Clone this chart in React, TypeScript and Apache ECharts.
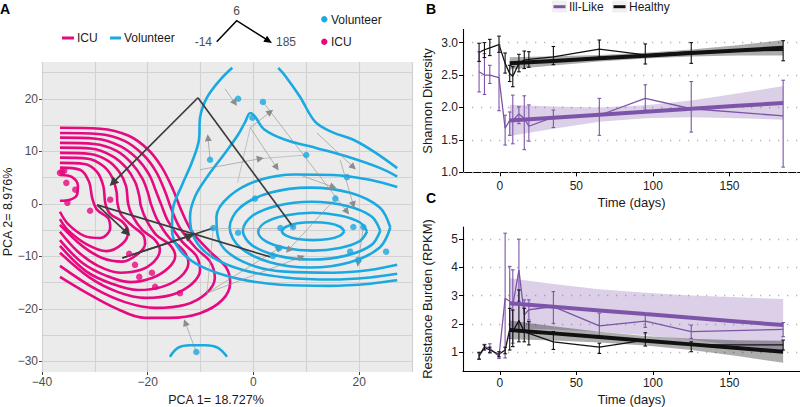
import React, { useEffect, useRef } from "react";
import * as echarts from "echarts";

const FONT = "'Liberation Sans', Arial, Helvetica, sans-serif";
const PINK = "#E6097F";
const BLUE = "#1BA9E1";
const PURPLE = "#7D55A8";
const DARK = "#111111";
const PANEL_BG = "#EBEBEB";
const PANEL_GRID = "#D2D2D2";

// ---------------- Panel A : PCA ----------------
const pcaXTicks = [-40, -20, 0, 20];
const pcaYTicks = [-30, -20, -10, 0, 10, 20];
const pcaXGrid = [-40, -30, -20, -10, 0, 10, 20, 30];
const pcaYGrid = [-30, -25, -20, -15, -10, -5, 0, 5, 10, 15, 20, 25];

const icuPoints = [
  [-36.6, 5.9], [-36.2, 6.1], [-35.8, 6.3], [-35.4, 4.0], [-33.7, 2.7], [-35.2, 0.2],
  [-30.9, -1.3], [-27.1, 0.8], [-23.5, -9.5], [-22.4, -11.6], [-21.6, -13.9],
  [-19.2, -13.1], [-18.6, -15.8], [-13.9, -17.0],
];
const volunteerPoints = [
  [-8.2, 8.4], [-2.9, 20.0], [1.8, 19.4], [-0.2, 16.4], [10.0, 9.3], [17.7, 5.1],
  [0.3, 1.0], [15.5, 1.0], [-7.6, -4.6], [-2.9, -5.5], [5.1, -4.6], [7.5, -4.4],
  [18.9, -4.4], [20.8, -4.4], [4.9, -8.4], [3.7, -9.9], [18.3, -9.1], [19.8, -10.7],
  [25.1, -9.1], [-10.8, -28.2],
];

const icuContours = [
  [[-36.6,14.5],[-29,14.3],[-23.7,13],[-19.9,10.3],[-17.3,6.9],[-15.2,2.7],[-13.7,-1.1],[-11.6,-5.3],[-8.2,-9.1],[-5.1,-12.2],[-4.4,-15.0],[-5.9,-18.3],[-10.1,-20.8],[-15.8,-21.7],[-20.5,-21.7],[-26.2,-19.8],[-31.8,-16.8],[-36.6,-13.9]],
  [[-36.6,13.5],[-29.4,13.3],[-24.4,12],[-20.8,9.3],[-18.4,6.1],[-16.7,2.3],[-15.6,-0.8],[-13.9,-4.6],[-10.9,-8.4],[-8.2,-11],[-7.3,-14.1],[-9,-17.1],[-12.9,-19.2],[-18.6,-19.8],[-24.3,-18.7],[-29.9,-16.2],[-36.6,-11.8]],
  [[-36.6,12.6],[-29.8,12.4],[-25.2,11],[-22,8.6],[-19.7,5.5],[-18.4,2.3],[-17.5,0],[-16.1,-3.4],[-13.5,-7.2],[-10.8,-9.9],[-10.1,-12.6],[-11.6,-15.2],[-15.4,-17.3],[-20.5,-17.9],[-25.6,-16.8],[-30.9,-14.1],[-36.6,-9.3]],
  [[-36.6,11.6],[-30.1,11.4],[-25.9,10.1],[-23.1,7.8],[-21,4.8],[-19.9,1.9],[-19.4,0],[-18.2,-3],[-15.9,-6.5],[-13.3,-8.8],[-12.3,-11.2],[-13.8,-13.9],[-17.3,-15.8],[-21.8,-16.4],[-26.8,-15.2],[-31.7,-12.8],[-36.6,-8]],
  [[-36.6,10.7],[-30.5,10.5],[-26.7,9.1],[-24.1,6.9],[-22.4,4.2],[-21.6,1.5],[-21.3,-0.4],[-20.3,-3],[-18.4,-5.9],[-15.8,-7.8],[-14.8,-9.9],[-16.1,-12.2],[-19.2,-14.1],[-23.3,-14.9],[-27.8,-13.7],[-32.4,-11.2],[-36.6,-6.9]],
  [[-36.6,9.7],[-30.9,9.5],[-27.5,8.2],[-25.4,6.1],[-24.1,3.4],[-23.7,0],[-22.9,-2.3],[-21,-5],[-18.6,-6.9],[-17.7,-8.8],[-18.8,-11],[-21.4,-12.6],[-25.2,-13.1],[-29.4,-11.8],[-33.2,-9.1],[-36.6,-5.3]],
  [[-36.6,8.8],[-31.3,8.6],[-28.4,7.2],[-26.7,5],[-25.9,2.3],[-25.7,0],[-25,-2.1],[-22.9,-4.2],[-20.9,-5.9],[-20.5,-7.6],[-21.8,-9.5],[-24.8,-11],[-28.6,-10.3],[-32.4,-8],[-36.6,-4]],
  [[-36.6,7.8],[-32,7.6],[-29.6,6.1],[-28.4,3.4],[-28,0],[-27.1,-1.9],[-24.8,-3.4],[-23.7,-5.3],[-24.8,-7.6],[-27.8,-9],[-31.7,-7.6],[-35.1,-5],[-36.6,-2.9]],
  [[-36.6,6.9],[-32.8,6.5],[-31.1,4.2],[-30.5,1.1],[-29.6,-1.1],[-27.5,-2.7],[-27.1,-4.6],[-29,-6.5],[-32,-6.1],[-35.1,-3.8],[-36.6,-1.5]],
  [[-36.6,5.5],[-34.3,5.1],[-33.2,3.4],[-33.4,1.7],[-34.7,0.8],[-36.6,0.6]],
];

const volunteerContours = [
  [[4.7,25.9],[6.0,24.4],[8.8,20.4],[11.7,15.6],[15.0,13.6],[18.9,12.2],[23.0,9.8],[27.2,6.8]],
  [[-4.0,25.9],[-6.3,23.6],[-8.8,20.2],[-10.1,16.4],[-10.3,12.2],[-11.6,8.0],[-13.5,3.6],[-15.2,-0.8],[-15.4,-5.0],[-13.9,-8.8],[-10.1,-11.8],[-3.5,-14.1],[5.1,-15.4],[14.5,-15.6],[22.1,-15.2],[27.2,-14.5]],
  [[27.2,5.2],[24.0,6.8],[17.7,9.0],[12.0,10.6],[6.0,12.2],[2.0,14.2],[0.3,16.6],[-0.6,17.3],[-1.6,15.5],[-3.0,13.0],[-5.5,9.5],[-8.5,5.5],[-11.0,1.5],[-12.0,-2.5],[-11.2,-6.5],[-8.0,-10.0],[-2.0,-12.6],[6.0,-14.0],[15.0,-14.4],[22.0,-14.0],[27.2,-13.3]],
  [[27.2,3.2],[22.0,4.6],[15.0,5.5],[8.0,5.6],[1.0,4.5],[-4.5,1.5],[-7.0,-2.5],[-6.5,-7.0],[-2.0,-11.0],[6.0,-12.9],[15.0,-13.1],[22.0,-12.6],[27.2,-11.6]],
  [[25.9,-4.5],[23.9,-0.7],[18.3,2.1],[10.7,3.1],[3.1,2.1],[-2.5,-0.7],[-4.5,-4.5],[-2.5,-8.3],[3.1,-11.1],[10.7,-12.1],[18.3,-11.1],[23.9,-8.3],[25.9,-4.5]],
  [[24.0,-5.1],[22.3,-2.35],[17.5,-0.35],[11.0,0.4],[4.5,-0.35],[-0.3,-2.35],[-2.0,-5.1],[-0.3,-7.85],[4.5,-9.85],[11.0,-10.6],[17.5,-9.85],[22.3,-7.85],[24.0,-5.1]],
  [[21.5,-5.3],[20.1,-3.5],[16.35,-2.2],[11.2,-1.7],[6.05,-2.2],[2.3,-3.5],[0.9,-5.3],[2.3,-7.1],[6.05,-8.4],[11.2,-8.9],[16.35,-8.4],[20.1,-7.1],[21.5,-5.3]],
  [[17.2,-5.2],[16.4,-4.35],[14.25,-3.7],[11.3,-3.5],[8.35,-3.7],[6.2,-4.35],[5.4,-5.2],[6.2,-6.05],[8.35,-6.7],[11.3,-6.9],[14.25,-6.7],[16.4,-6.05],[17.2,-5.2]],
  [[-15.8,-29.1],[-14.3,-27.4],[-12.0,-26.9],[-9.1,-26.9],[-6.7,-27.4],[-5.0,-29.1]],
];

// mean trajectories: day -14 -> day 6 -> day 185
const darkPaths = [
  [[7.5, -4.4], [-10.5, 20.2], [-26.6, 4.0]],
  [[3.2, -10.1], [-29.6, -0.2], [-23.9, -5.5]],
  [[-7.6, -4.6], [-24.8, -10.3], [-12.0, -6.1]],
];
const greyArrows = [
  [[-5.4, 21.9], [-3.5, 19.2]],
  [[-0.6, 14.5], [3.2, 17.5]],
  [[-0.6, 14.5], [4.4, 6.9]],
  [[-8.2, 8.4], [-8.6, 12.6]],
  [[-10.1, 6.5], [1.3, 8.6]],
  [[12.0, 13.5], [18.9, 7.0]],
  [[8.8, 5.5], [15.1, 3.2]],
  [[16.4, 8.4], [18.9, -0.2]],
  [[15.5, 1.0], [6.6, -8.8]],
  [[-8.8, -17.0], [4.9, -8.4]],
  [[-8.8, -17.0], [9.1, -10.1]],
  [[20.8, -4.4], [19.8, -11.3]],
  [[-10.8, -28.2], [-12.9, -22.6]],
  [[1.8, 19.4], [17.7, -1.5]],
];
const greyLinks = [
  [[-0.6, 14.5], [-3.0, 4.0]],
  [[-7.6, -4.6], [5.1, -4.6]],
  [[-8.8, -17.0], [-7.6, -4.6]],
  [[1.3, 8.6], [10.0, 9.3]],
];

// ---------------- Panels B / C : time courses ----------------
const timeMin = -24;
const timeMax = 196;
const timeTicks = [0, 50, 100, 150];
const shannonTicks = [1, 1.5, 2, 2.5, 3];
const resistTicks = [1, 2, 3, 4, 5];
const days = [-13.5, -10, -6.5, -0.5, 3.5, 6.5, 8.5, 12.5, 16, 19, 35, 65, 95, 125, 185];

const shannonHealthy = [2.85, 2.89, 2.92, 2.97, 2.68, 2.52, 2.48, 2.68, 2.73, 2.74, 2.78, 2.90, 2.81, 2.86, 2.88];
const shannonHealthyLo = [2.71, 2.77, 2.80, 2.85, 2.53, 2.40, 2.32, 2.55, 2.60, 2.62, 2.66, 2.78, 2.67, 2.68, 2.72];
const shannonHealthyHi = [2.99, 3.00, 3.05, 3.10, 2.84, 2.65, 2.63, 2.82, 2.87, 2.86, 2.94, 3.04, 2.98, 3.00, 3.03];
const shannonIll = [2.55, 2.50, 2.50, 2.46, 1.68, 1.80, 1.80, 1.90, 1.83, 1.71, 1.85, 1.88, 2.14, 1.98, 1.87];
const shannonIllLo = [2.24, 2.20, 2.37, 1.95, 1.42, 1.57, 1.44, 1.75, 1.35, 1.48, 1.69, 1.57, 1.96, 1.62, 1.08];
const shannonIllHi = [2.86, 2.83, 2.65, 2.96, 1.88, 1.93, 2.19, 2.01, 2.18, 2.04, 1.96, 2.14, 2.35, 2.40, 2.42];

const resistHealthy = [0.88, 1.17, 1.08, 0.93, 1.08, 1.81, 1.73, 2.12, 1.73, 1.67, 1.37, 1.18, 1.43, 1.26, 1.26];
const resistHealthyLo = [0.76, 1.08, 0.98, 0.84, 0.95, 1.08, 1.20, 1.37, 1.37, 1.26, 1.10, 0.96, 1.22, 1.02, 1.08];
const resistHealthyHi = [1.00, 1.26, 1.18, 1.02, 1.18, 2.55, 2.49, 3.20, 2.55, 2.08, 1.73, 1.32, 1.69, 1.37, 1.43];
const resistIll = [0.85, 1.20, 1.14, 0.85, 2.90, 2.80, 2.65, 3.90, 2.32, 2.50, 2.61, 1.93, 2.10, 1.73, 1.81];
const resistIllLo = [0.75, 1.12, 1.00, 0.78, 0.80, 1.49, 1.32, 2.80, 1.79, 2.14, 2.02, 1.49, 1.88, 1.49, 1.55];
const resistIllHi = [0.97, 1.28, 1.30, 0.95, 5.20, 4.03, 3.91, 4.99, 2.85, 2.85, 3.14, 2.38, 2.32, 1.96, 2.05];

const trendDays = [6.5, 35, 65, 95, 125, 155, 185];
const shannonHealthyFit = [2.68, 2.718, 2.759, 2.799, 2.839, 2.88, 2.92];
const shannonHealthyFitLo = [2.585, 2.648, 2.709, 2.754, 2.784, 2.80, 2.80];
const shannonHealthyFitHi = [2.775, 2.788, 2.809, 2.844, 2.894, 2.96, 3.04];
const shannonIllFit = [1.80, 1.843, 1.889, 1.934, 1.979, 2.025, 2.07];
const shannonIllFitLo = [1.56, 1.673, 1.779, 1.834, 1.849, 1.835, 1.81];
const shannonIllFitHi = [2.04, 2.013, 1.999, 2.034, 2.109, 2.215, 2.33];
const resistIllFit = [2.73, 2.607, 2.478, 2.348, 2.219, 2.089, 1.96];
const resistIllFitLo = [1.85, 1.807, 1.728, 1.598, 1.439, 1.239, 1.04];
const resistIllFitHi = [3.61, 3.407, 3.228, 3.098, 2.999, 2.939, 2.88];
const resistHealthyFit = [1.79, 1.667, 1.538, 1.408, 1.279, 1.149, 1.02];
const resistHealthyFitLo = [1.46, 1.417, 1.348, 1.238, 1.079, 0.869, 0.63];
const resistHealthyFitHi = [2.12, 1.917, 1.728, 1.578, 1.479, 1.429, 1.41];

// ---------------- helpers ----------------
const minusFmt = (v: number) => String(v).replace("-", "\u2212");

const ribbon = (gi: number, xs: number[], lo: number[], hi: number[], fill: string) => ({
  type: "custom",
  xAxisIndex: gi,
  yAxisIndex: gi,
  silent: true,
  z: 2,
  data: [[50, 2]],
  renderItem: (_p: any, api: any) => {
    const top = xs.map((d, i) => api.coord([d, hi[i]]));
    const bot = xs.map((d, i) => api.coord([d, lo[i]])).reverse();
    return { type: "polygon", shape: { points: top.concat(bot) }, style: { fill } };
  },
});

const errorBars = (gi: number, lo: number[], hi: number[], color: string) => ({
  type: "custom",
  xAxisIndex: gi,
  yAxisIndex: gi,
  silent: true,
  z: 5,
  data: days.map((d, i) => [d, lo[i], hi[i]]),
  encode: { x: 0, y: [1, 2] },
  renderItem: (_p: any, api: any) => {
    const x = api.value(0);
    const a = api.coord([x, api.value(1)]);
    const b = api.coord([x, api.value(2)]);
    const w = 1.8;
    const st = { stroke: color, lineWidth: 1.1 };
    return {
      type: "group",
      children: [
        { type: "line", shape: { x1: a[0], y1: a[1], x2: b[0], y2: b[1] }, style: st },
        { type: "line", shape: { x1: a[0] - w, y1: a[1], x2: a[0] + w, y2: a[1] }, style: st },
        { type: "line", shape: { x1: b[0] - w, y1: b[1], x2: b[0] + w, y2: b[1] }, style: st },
      ],
    };
  },
});

const thinLine = (gi: number, vals: number[], color: string) => ({
  type: "line",
  xAxisIndex: gi,
  yAxisIndex: gi,
  silent: true,
  z: 4,
  symbol: "none",
  data: days.map((d, i) => [d, vals[i]]),
  lineStyle: { color, width: 1.3 },
});

const thickLine = (gi: number, vals: number[], color: string) => ({
  type: "line",
  xAxisIndex: gi,
  yAxisIndex: gi,
  silent: true,
  z: 6,
  symbol: "none",
  data: trendDays.map((d, i) => [d, vals[i]]),
  lineStyle: { color, width: 4 },
});

const markLineOf = (items: any[], color: string, type: any, width: number) => ({
  silent: true,
  z: 1,
  symbol: ["none", "none"],
  label: { show: false },
  emphasis: { disabled: true },
  lineStyle: { color, type, width, cap: "butt" },
  data: items,
});

const rightXAxis = (gi: number, margin: number) => ({
  gridIndex: gi,
  type: "value",
  min: timeMin,
  max: timeMax,
  splitLine: { show: false },
  axisLine: { show: true, onZero: false, lineStyle: { color: "#000", width: 1.1 } },
  axisTick: { show: true, length: 4, lineStyle: { color: "#000" }, customValues: timeTicks },
  axisLabel: { customValues: timeTicks, color: "#222", fontSize: 12, fontFamily: FONT, margin },
});

const rightYAxis = (gi: number, min: number, max: number, ticks: number[], digits: number) => ({
  gridIndex: gi,
  type: "value",
  position: "left",
  min,
  max,
  splitLine: { show: false },
  axisLine: { show: false, onZero: false },
  axisTick: { show: true, length: 4, lineStyle: { color: "#000" }, customValues: ticks },
  axisLabel: {
    customValues: ticks,
    color: "#222",
    fontSize: 12,
    fontFamily: FONT,
    margin: 5,
    formatter: (v: number) => v.toFixed(digits),
  },
});

const txt = (text: string, x: number, y: number, opts: any = {}) => ({
  type: "text",
  x,
  y,
  rotation: opts.rotation || 0,
  z: 100,
  style: {
    text,
    font: `${opts.bold ? "bold " : ""}${opts.size || 12}px ${FONT}`,
    fill: opts.color || "#1a1a1a",
    align: opts.align || "left",
    verticalAlign: "middle",
  },
});

function buildOption() {
  const series: any[] = [];

  // ----- Panel A -----
  series.push({
    type: "line",
    xAxisIndex: 0,
    yAxisIndex: 0,
    silent: true,
    symbol: "none",
    data: [[-40, -32]],
    lineStyle: { width: 0 },
    markLine: markLineOf(
      pcaXGrid.map((v) => ({ xAxis: v })).concat(pcaYGrid.map((v) => ({ yAxis: v })) as any),
      PANEL_GRID, "solid", 1.2
    ),
  });
  icuContours.forEach((c) =>
    series.push({
      type: "line", xAxisIndex: 0, yAxisIndex: 0, silent: true, symbol: "none", smooth: 0.35, z: 3,
      data: c, lineStyle: { color: PINK, width: 2.6 },
    })
  );
  volunteerContours.forEach((c) =>
    series.push({
      type: "line", xAxisIndex: 0, yAxisIndex: 0, silent: true, symbol: "none", smooth: 0.35, z: 3,
      data: c, lineStyle: { color: BLUE, width: 2.6 },
    })
  );
  series.push({
    type: "lines", coordinateSystem: "cartesian2d", xAxisIndex: 0, yAxisIndex: 0, silent: true, z: 4,
    symbol: ["none", "none"],
    lineStyle: { color: "#A6A6A6", width: 0.6, opacity: 1 },
    data: greyLinks.map((c) => ({ coords: c })),
  });
  series.push({
    type: "lines", coordinateSystem: "cartesian2d", xAxisIndex: 0, yAxisIndex: 0, silent: true, z: 4,
    symbol: ["none", "triangle"], symbolSize: 7,
    lineStyle: { color: "#8C8C8C", width: 0.6, opacity: 1 },
    data: greyArrows.map((c) => ({ coords: c })),
  });
  series.push({
    type: "lines", coordinateSystem: "cartesian2d", xAxisIndex: 0, yAxisIndex: 0, silent: true, z: 5,
    symbol: ["none", "none"],
    lineStyle: { color: "#3C3C3C", width: 1.7, opacity: 1 },
    data: darkPaths.map((p) => ({ coords: [p[0], p[1]] })),
  });
  series.push({
    type: "lines", coordinateSystem: "cartesian2d", xAxisIndex: 0, yAxisIndex: 0, silent: true, z: 5,
    symbol: ["none", "triangle"], symbolSize: 9,
    lineStyle: { color: "#3C3C3C", width: 1.7, opacity: 1 },
    data: darkPaths.map((p) => ({ coords: [p[1], p[2]] })),
  });
  series.push({
    type: "scatter", xAxisIndex: 0, yAxisIndex: 0, silent: true, z: 6,
    symbolSize: 6.5, data: volunteerPoints, itemStyle: { color: BLUE },
  });
  series.push({
    type: "scatter", xAxisIndex: 0, yAxisIndex: 0, silent: true, z: 6,
    symbolSize: 6.5, data: icuPoints, itemStyle: { color: PINK },
  });

  // ----- Panels B and C: dotted grid + left axis line -----
  const panelFrame = (gi: number, ticks: number[]) => [
    {
      type: "line", xAxisIndex: gi, yAxisIndex: gi, silent: true, symbol: "none",
      data: [[50, ticks[1]]], lineStyle: { width: 0 },
      markLine: markLineOf(ticks.map((v) => ({ yAxis: v })), "#B5B5B5", [1.3, 7.7], 1.3),
    },
    {
      type: "line", xAxisIndex: gi, yAxisIndex: gi, silent: true, symbol: "none",
      data: [[50, ticks[1]]], lineStyle: { width: 0 },
      markLine: { ...markLineOf([{ xAxis: timeMin }], "#000", "solid", 1.1), z: 7 },
    },
  ];

  // ----- Panel B -----
  series.push(...panelFrame(1, shannonTicks));
  series.push(ribbon(1, trendDays, shannonHealthyFitLo, shannonHealthyFitHi, "rgba(0,0,0,0.32)"));
  series.push(ribbon(1, trendDays, shannonIllFitLo, shannonIllFitHi, "rgba(125,85,168,0.28)"));
  series.push(thinLine(1, shannonIll, PURPLE));
  series.push(thinLine(1, shannonHealthy, DARK));
  series.push(errorBars(1, shannonIllLo, shannonIllHi, PURPLE));
  series.push(errorBars(1, shannonHealthyLo, shannonHealthyHi, DARK));
  series.push(thickLine(1, shannonIllFit, PURPLE));
  series.push(thickLine(1, shannonHealthyFit, DARK));

  // ----- Panel C -----
  series.push(...panelFrame(2, resistTicks));
  series.push(ribbon(2, trendDays, resistIllFitLo, resistIllFitHi, "rgba(125,85,168,0.28)"));
  series.push(ribbon(2, trendDays, resistHealthyFitLo, resistHealthyFitHi, "rgba(0,0,0,0.32)"));
  series.push(thinLine(2, resistIll, PURPLE));
  series.push(thinLine(2, resistHealthy, DARK));
  series.push(errorBars(2, resistIllLo, resistIllHi, PURPLE));
  series.push(errorBars(2, resistHealthyLo, resistHealthyHi, DARK));
  series.push(thickLine(2, resistIllFit, PURPLE));
  series.push(thickLine(2, resistHealthyFit, DARK));

  // arrowhead of the time legend
  const tip = [272, 43];
  const graphic: any[] = [
    txt("A", 0, 9, { bold: true, size: 14, color: "#000" }),
    { type: "line", z: 100, shape: { x1: 62, y1: 38, x2: 74, y2: 38 }, style: { stroke: PINK, lineWidth: 3 } },
    txt("ICU", 77, 38),
    { type: "line", z: 100, shape: { x1: 110, y1: 38, x2: 121, y2: 38 }, style: { stroke: BLUE, lineWidth: 3 } },
    txt("Volunteer", 124, 38),
    { type: "polyline", z: 100, shape: { points: [[216.7, 41.7], [236.7, 20.7], [266, 39.2]] }, style: { stroke: "#000", lineWidth: 1.5, fill: null } },
    { type: "polygon", z: 100, shape: { points: [tip, [263.3, 41.7], [267.1, 35.7]] }, style: { fill: "#000" } },
    txt("6", 236.5, 11, { align: "center", color: "#4D4D4D" }),
    txt("-14", 212, 42, { align: "right", color: "#4D4D4D" }),
    txt("185", 276, 42, { color: "#4D4D4D" }),
    { type: "circle", z: 100, shape: { cx: 324.3, cy: 19.3, r: 3.2 }, style: { fill: BLUE } },
    txt("Volunteer", 331, 19.5),
    { type: "circle", z: 100, shape: { cx: 324.3, cy: 41.7, r: 3.2 }, style: { fill: PINK } },
    txt("ICU", 331, 42),
    txt("PCA 1= 18.727%", 216, 400, { align: "center", size: 12.5 }),
    txt("PCA 2= 8.976%", 8, 212, { align: "center", size: 12.5, rotation: Math.PI / 2 }),

    txt("B", 426, 9, { bold: true, size: 14, color: "#000" }),
    { type: "rect", z: 99, shape: { x: 552, y: 0.5, width: 15, height: 12 }, style: { fill: "#F0F0F0" } },
    { type: "line", z: 100, shape: { x1: 553.5, y1: 6.7, x2: 565.5, y2: 6.7 }, style: { stroke: PURPLE, lineWidth: 3 } },
    txt("Ill-Like", 569, 7),
    { type: "rect", z: 99, shape: { x: 612, y: 0.5, width: 15, height: 12 }, style: { fill: "#F0F0F0" } },
    { type: "line", z: 100, shape: { x1: 613.5, y1: 6.7, x2: 625.5, y2: 6.7 }, style: { stroke: DARK, lineWidth: 3 } },
    txt("Healthy", 629, 7),
    txt("Shannon Diversity", 427, 101, { align: "center", size: 13, rotation: Math.PI / 2 }),
    txt("Time (days)", 631.5, 202, { align: "center", size: 13 }),

    txt("C", 426, 198, { bold: true, size: 14, color: "#000" }),
    txt("Resistance Burden (RPKM)", 427, 299, { align: "center", size: 13, rotation: Math.PI / 2 }),
    txt("Time (days)", 631.5, 399, { align: "center", size: 13 }),
  ];

  return {
    animation: false,
    backgroundColor: "#ffffff",
    textStyle: { fontFamily: FONT },
    grid: [
      { left: 42, top: 62, width: 370, height: 310, show: true, backgroundColor: PANEL_BG, borderWidth: 0 },
      { left: 463, top: 29, width: 337, height: 143.3 },
      { left: 463, top: 226.7, width: 337, height: 144.3 },
    ],
    xAxis: [
      {
        gridIndex: 0, type: "value", min: -40, max: 30,
        splitLine: { show: false }, axisLine: { show: false, onZero: false },
        axisTick: { show: true, length: 3, lineStyle: { color: "#444" }, customValues: pcaXTicks },
        axisLabel: { customValues: pcaXTicks, color: "#4D4D4D", fontSize: 12, fontFamily: FONT, margin: 4, formatter: minusFmt },
      },
      rightXAxis(1, 8),
      rightXAxis(2, 6),
    ],
    yAxis: [
      {
        gridIndex: 0, type: "value", min: -32, max: 27,
        splitLine: { show: false }, axisLine: { show: false, onZero: false },
        axisTick: { show: true, length: 3, lineStyle: { color: "#444" }, customValues: pcaYTicks },
        axisLabel: { customValues: pcaYTicks, color: "#4D4D4D", fontSize: 12, fontFamily: FONT, margin: 4, formatter: minusFmt },
      },
      rightYAxis(1, 1, 3.21, shannonTicks, 1),
      rightYAxis(2, 0.34, 5.43, resistTicks, 0),
    ],
    series,
    graphic,
  };
}

export default function App() {
  const ref = useRef<HTMLDivElement>(null);
  useEffect(() => {
    if (!ref.current) return;
    const chart = echarts.init(ref.current, null, { renderer: "svg" });
    chart.setOption(buildOption() as any);
    return () => chart.dispose();
  }, []);
  return (
    <div
      ref={ref}
      style={{ position: "absolute", left: 0, top: 0, width: 800, height: 407, background: "#fff" }}
    />
  );
}
